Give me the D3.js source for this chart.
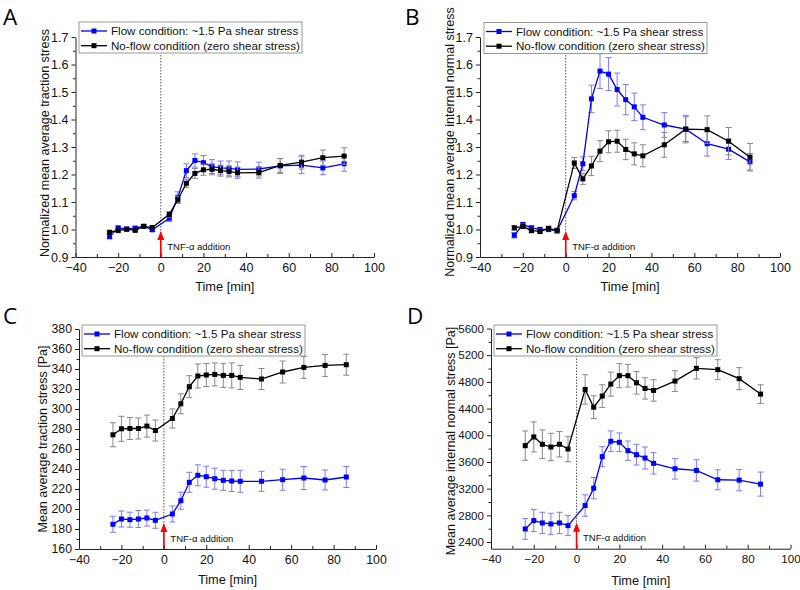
<!DOCTYPE html>
<html>
<head>
<meta charset="utf-8">
<script src="https://cdn.jsdelivr.net/npm/d3@7"></script>
<style>
body { margin: 0; background: #fff; }
svg { display: block; }
</style>
</head>
<body>
<svg id="fig" width="800" height="590"></svg>
<script>
// time points (min) relative to TNF-a addition
var timeMin = [-24, -20, -16, -12, -8, -4, 4, 8, 12, 16, 20, 24, 28, 32, 36, 46, 56, 66, 76, 86];
var seriesNames = ["Flow condition: ~1.5 Pa shear stress", "No-flow condition (zero shear stress)"];

// A - normalized traction stress
var flowA = [0.974, 1.006, 1.002, 1.005, 1.012, 0.999, 1.041, 1.117, 1.214, 1.251, 1.243, 1.229, 1.224, 1.222, 1.219, 1.220, 1.231, 1.234, 1.224, 1.239];
var flowErrA = [0.008, 0.006, 0.005, 0.006, 0.005, 0.006, 0.012, 0.02, 0.025, 0.024, 0.026, 0.025, 0.025, 0.027, 0.027, 0.025, 0.027, 0.03, 0.025, 0.027];
var noflowA = [0.990, 0.996, 1.001, 0.997, 1.011, 1.007, 1.055, 1.108, 1.168, 1.204, 1.217, 1.219, 1.214, 1.211, 1.206, 1.207, 1.233, 1.245, 1.261, 1.267];
var noflowErrA = [0.005, 0.005, 0.005, 0.005, 0.005, 0.006, 0.01, 0.013, 0.015, 0.018, 0.02, 0.02, 0.02, 0.02, 0.02, 0.02, 0.025, 0.025, 0.028, 0.03];

// B - normalized internal normal stress
var flowB = [0.979, 1.018, 1.006, 1.000, 1.000, 0.995, 1.123, 1.239, 1.475, 1.576, 1.565, 1.509, 1.472, 1.446, 1.408, 1.380, 1.365, 1.312, 1.292, 1.246];
var flowErrB = [0.01, 0.008, 0.008, 0.008, 0.008, 0.008, 0.015, 0.025, 0.05, 0.063, 0.06, 0.06, 0.055, 0.05, 0.045, 0.045, 0.045, 0.045, 0.037, 0.03];
var noflowB = [1.006, 1.011, 0.996, 0.993, 1.004, 0.997, 1.242, 1.184, 1.231, 1.285, 1.319, 1.321, 1.291, 1.275, 1.268, 1.308, 1.365, 1.363, 1.321, 1.263];
var noflowErrB = [0.008, 0.008, 0.008, 0.008, 0.008, 0.008, 0.02, 0.02, 0.035, 0.038, 0.04, 0.04, 0.037, 0.04, 0.04, 0.045, 0.05, 0.05, 0.05, 0.05];

// C - traction stress [Pa]
var flowC = [184.7, 190, 189.3, 190, 191, 188.7, 195, 208.3, 226.7, 233.7, 232.3, 230.3, 228.7, 228, 227.7, 227.7, 229.3, 231, 229, 232];
var flowErrC = [8, 8, 7.5, 8.5, 8, 8, 8, 8.5, 10, 10.5, 10.5, 10.5, 10, 10.5, 11, 10, 10.5, 11.5, 10, 10.5];
var noflowC = [274.2, 280.2, 280.5, 280.5, 282.9, 278.5, 290.5, 305.2, 322.3, 333, 334, 334.6, 333.6, 333.6, 331.6, 330, 337, 341.6, 343.6, 344.3];
var noflowErrC = [12, 12.5, 11, 10.5, 11, 10.5, 9.5, 10, 11, 12, 11.5, 11.5, 12, 12.5, 12, 10.5, 11, 11, 11, 10.5];

// D - internal normal stress [Pa]
var flowD = [2596, 2721, 2686, 2671, 2686, 2646, 2947, 3207, 3679, 3910, 3895, 3769, 3709, 3659, 3579, 3498, 3473, 3333, 3328, 3268];
var flowErrD = [155, 165, 160, 160, 160, 150, 160, 160, 150, 155, 140, 145, 155, 165, 160, 155, 160, 150, 160, 180];
var noflowD = [3844, 3975, 3865, 3824, 3865, 3794, 4687, 4421, 4587, 4767, 4893, 4893, 4787, 4702, 4672, 4812, 5003, 4983, 4848, 4617];
var noflowErrD = [220, 225, 215, 205, 190, 190, 220, 170, 170, 180, 180, 170, 170, 160, 160, 155, 160, 150, 165, 140];

// ticks
var xTicks = [-40, -20, 0, 20, 40, 60, 80, 100];
var xMinor = [-30, -10, 10, 30, 50, 70, 90];
var normTicks = [0.9, 1.0, 1.1, 1.2, 1.3, 1.4, 1.5, 1.6, 1.7];
var normMinor = [0.95, 1.05, 1.15, 1.25, 1.35, 1.45, 1.55, 1.65];
var tractionTicks = [160, 180, 200, 220, 240, 260, 280, 300, 320, 340, 360, 380];
var tractionMinor = [170, 190, 210, 230, 250, 270, 290, 310, 330, 350, 370];
var normalTicks = [2400, 2800, 3200, 3600, 4000, 4400, 4800, 5200, 5600];
var normalMinor = [2600, 3000, 3400, 3800, 4200, 4600, 5000, 5400];

var FONT = "'Liberation Sans', Arial, sans-serif";
var svg = d3.select("#fig");

var panels = [
	{letter: "A", lx: 3, ly: 24.5, left: 75.5, right: 374, top: 37, bottom: 257, yDom: [0.9, 1.7], fs: 12.5,
	 ticks: normTicks, minor: normMinor, fmt: d3.format(".1f"), flow: flowA, flowErr: flowErrA, noflow: noflowA, noflowErr: noflowErrA,
	 ytitle: "Normalized mean average traction stress", tx: 45, ty: 143, xty: 287, legX: 79, legY: 22},
	{letter: "B", lx: 405, ly: 24.5, left: 480, right: 780, top: 37, bottom: 257, yDom: [0.9, 1.7], fs: 12.5,
	 ticks: normTicks, minor: normMinor, fmt: d3.format(".1f"), flow: flowB, flowErr: flowErrB, noflow: noflowB, noflowErr: noflowErrB,
	 ytitle: "Normalized mean average internal normal stress", tx: 450, ty: 142, xty: 287, legX: 484, legY: 22.5},
	{letter: "C", lx: 3, ly: 324, left: 79, right: 376, top: 329, bottom: 549, yDom: [160, 380], fs: 12.3,
	 ticks: tractionTicks, minor: tractionMinor, fmt: d3.format("d"), flow: flowC, flowErr: flowErrC, noflow: noflowC, noflowErr: noflowErrC,
	 ytitle: "Mean average traction stress [Pa]", tx: 43, ty: 439, xty: 580, legX: 82, legY: 325},
	{letter: "D", lx: 407, ly: 324, left: 491, right: 790.5, top: 328.5, bottom: 548.7, yDom: [2300, 5600], fs: 11.6,
	 ticks: normalTicks, minor: normalMinor, fmt: d3.format("d"), flow: flowD, flowErr: flowErrD, noflow: noflowD, noflowErr: noflowErrD,
	 ytitle: "Mean average internal normal stress [Pa]", tx: 450.5, ty: 441, xty: 580.5, legX: 494, legY: 325}
];

function drawSeries(g, x, y, vals, errs, color, errColor) {
	var pts = timeMin.map(function(t, i) { return {t: t, v: vals[i], e: errs[i]}; });
	var eb = g.append("g").attr("stroke", errColor).attr("stroke-width", 1);
	pts.forEach(function(d) {
		eb.append("line").attr("x1", x(d.t)).attr("x2", x(d.t)).attr("y1", y(d.v - d.e)).attr("y2", y(d.v + d.e));
		eb.append("line").attr("x1", x(d.t) - 3).attr("x2", x(d.t) + 3).attr("y1", y(d.v - d.e)).attr("y2", y(d.v - d.e));
		eb.append("line").attr("x1", x(d.t) - 3).attr("x2", x(d.t) + 3).attr("y1", y(d.v + d.e)).attr("y2", y(d.v + d.e));
	});
	g.append("path").datum(pts)
		.attr("fill", "none").attr("stroke", color).attr("stroke-width", 1.3)
		.attr("d", d3.line().x(function(d) { return x(d.t); }).y(function(d) { return y(d.v); }));
	g.selectAll(null).data(pts).enter().append("rect")
		.attr("x", function(d) { return x(d.t) - 2.5; })
		.attr("y", function(d) { return y(d.v) - 2.5; })
		.attr("width", 5).attr("height", 5).attr("fill", color);
}

function styleAxis(sel, fs) {
	sel.selectAll("path.domain").attr("stroke", "#222");
	sel.selectAll(".tick line").attr("stroke", "#222");
	sel.selectAll("text").attr("fill", "#111").style("font-family", FONT).style("font-size", fs + "px");
}

panels.forEach(function(p) {
	var g = svg.append("g");
	var x = d3.scaleLinear().domain([-40, 100]).range([p.left, p.right]);
	var y = d3.scaleLinear().domain(p.yDom).range([p.bottom, p.top]);

	// TNF-a marker line
	g.append("line")
		.attr("x1", x(0)).attr("x2", x(0)).attr("y1", p.top).attr("y2", p.bottom)
		.attr("stroke", "#555").attr("stroke-width", 1).attr("stroke-dasharray", "1.5,1.5");

	drawSeries(g, x, y, p.flow, p.flowErr, "#0000ff", "#7b7bff");
	drawSeries(g, x, y, p.noflow, p.noflowErr, "#000", "#888");

	// axes
	var gx = g.append("g").attr("transform", "translate(0," + p.bottom + ")")
		.call(d3.axisBottom(x).tickValues(xTicks).tickSize(-4).tickSizeOuter(0).tickPadding(6).tickFormat(d3.format("d")));
	styleAxis(gx, p.fs);
	var gxm = g.append("g").attr("transform", "translate(0," + p.bottom + ")")
		.call(d3.axisBottom(x).tickValues(xMinor).tickSize(-3).tickFormat(""));
	gxm.select("path.domain").remove();
	styleAxis(gxm, p.fs);

	var gy = g.append("g").attr("transform", "translate(" + p.left + ",0)")
		.call(d3.axisLeft(y).tickValues(p.ticks).tickSize(4).tickSizeOuter(0).tickPadding(3).tickFormat(p.fmt));
	styleAxis(gy, p.fs);
	var gym = g.append("g").attr("transform", "translate(" + p.left + ",0)")
		.call(d3.axisLeft(y).tickValues(p.minor).tickSize(2.5).tickFormat(""));
	gym.select("path.domain").remove();
	styleAxis(gym, p.fs);

	// arrow + annotation
	var x0 = x(0);
	g.append("line").attr("x1", x0).attr("x2", x0).attr("y1", p.bottom).attr("y2", p.bottom - 18)
		.attr("stroke", "#ff0000").attr("stroke-width", 1.6);
	g.append("path")
		.attr("d", "M" + x0 + "," + (p.bottom - 26) + "L" + (x0 - 3.5) + "," + (p.bottom - 17) + "L" + (x0 + 3.5) + "," + (p.bottom - 17) + "Z")
		.attr("fill", "#ff0000");
	g.append("text").attr("x", x0 + 6.5).attr("y", p.bottom - 7.5)
		.style("font-family", FONT).style("font-size", "9.5px").attr("fill", "#111")
		.text("TNF-\u03b1 addition");

	// titles
	g.append("text").attr("x", (p.left + p.right) / 2).attr("y", p.xty).attr("dy", "0.35em")
		.attr("text-anchor", "middle").style("font-family", FONT).style("font-size", "12.8px").attr("fill", "#111")
		.text("Time [min]");
	g.append("text").attr("transform", "translate(" + p.tx + "," + p.ty + ") rotate(-90)").attr("dy", "0.35em")
		.attr("text-anchor", "middle").style("font-family", FONT).style("font-size", "12.5px").attr("fill", "#111")
		.text(p.ytitle);

	// panel letter
	svg.append("text").attr("x", p.lx).attr("y", p.ly)
		.style("font-family", "'Open Sans', 'DejaVu Sans', sans-serif").style("font-size", "22.5px").attr("fill", "#000")
		.text(p.letter);

	// legend
	var leg = g.append("g").attr("transform", "translate(" + p.legX + "," + p.legY + ")");
	leg.append("rect").attr("width", 223).attr("height", 31).attr("fill", "#fff").attr("stroke", "#999").attr("stroke-width", 1);
	[["#0000ff", seriesNames[0]], ["#000", seriesNames[1]]].forEach(function(s, i) {
		var ry = 9 + i * 14.7;
		leg.append("line").attr("x1", 2).attr("x2", 28).attr("y1", ry).attr("y2", ry).attr("stroke", s[0]).attr("stroke-width", 1.3);
		leg.append("rect").attr("x", 12.5).attr("y", ry - 2.5).attr("width", 5).attr("height", 5).attr("fill", s[0]);
		leg.append("text").attr("x", 32).attr("y", ry).attr("dy", "0.35em")
			.style("font-family", FONT).style("font-size", "11.6px").attr("fill", "#111").text(s[1]);
	});
});
</script>
</body>
</html>
